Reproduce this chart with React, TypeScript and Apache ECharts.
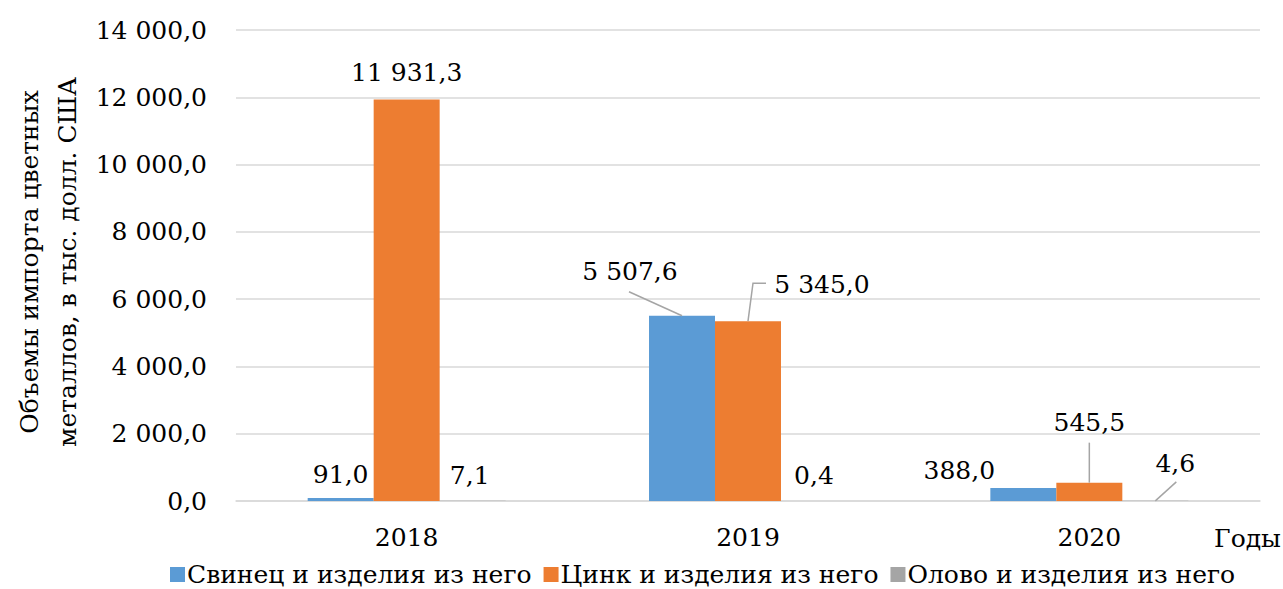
import React, { useEffect, useRef } from "react";
import * as echarts from "echarts";

const categories = ["2018", "2019", "2020"];
const seriesNames = [
  "Свинец и изделия из него",
  "Цинк и изделия из него",
  "Олово и изделия из него",
];
const leadValues = [91.0, 5507.6, 388.0];
const zincValues = [11931.3, 5345.0, 545.5];
const tinValues = [7.1, 0.4, 4.6];
const colors = ["#5B9BD5", "#ED7D31", "#A5A5A5"];
const yAxisTitle = "Объемы импорта цветных\nметаллов, в тыс. долл. США";
const xAxisTitle = "Годы";

const labelNudges: number[][][] = [
  [[0, -6], [-52, -27], [-64, 0]],
  [[0, -10], [74, -19], [0, -43]],
  [[-3, -8], [0, -8], [20, -20]],
];
const leaderItems = [
  [1, 0],
  [1, 1],
  [2, 1],
  [2, 2],
];
const leaderBends: number[][][] = [
  [[-53, -24]],
  [[5, -38], [18, -38]],
  [[0, -40]],
  [[21, -19]],
];

const FONT = "DejaVu Serif";
const FS = 25;
const fmt = (v: number) => {
  const [i, d] = v.toFixed(1).split(".");
  return i.replace(/\B(?=(\d{3})+(?!\d))/g, " ") + "," + d;
};
const BAR_GAP_RATIO = 0.42;

export default function App() {
  const ref = useRef<HTMLDivElement>(null);
  useEffect(() => {
    const chart = echarts.init(ref.current!, null, { renderer: "svg" });
    const all = [leadValues, zincValues, tinValues];
    const barSeries = all.map((vals, si) => ({
      name: seriesNames[si],
      type: "bar",
      barGap: "0%",
      barCategoryGap: `${BAR_GAP_RATIO * 100}%`,
      itemStyle: { color: colors[si] },
      label: {
        show: true,
        position: "top",
        distance: 5,
        color: "#000",
        fontFamily: FONT,
        fontSize: FS,
        formatter: (p: any) => fmt(p.value),
      },
      labelLayout: (p: any) => {
        const n = labelNudges[si][p.dataIndex];
        return { dx: n[0], dy: n[1] };
      },
      data: vals,
    }));
    const leaderSeries = {
      type: "custom",
      silent: true,
      z: 5,
      data: leaderItems.map(([ci, si], k) => [ci, all[si][ci], si, k]),
      encode: { x: 0, y: 1 },
      renderItem: (params: any, api: any) => {
        const ci = api.value(0);
        const v = api.value(1);
        const si = api.value(2);
        const k = api.value(3);
        const c = api.coord([ci, v]);
        const band = api.size([1, 0])[0];
        const bw = (band * (1 - BAR_GAP_RATIO)) / 3;
        const bx = c[0] + (si - 1) * bw;
        const by = c[1];
        const pts = [[bx, by], ...leaderBends[k].map((b) => [bx + b[0], by + b[1]])];
        return {
          type: "polyline",
          shape: { points: pts },
          style: { stroke: "#A5A5A5", lineWidth: 1.5, fill: "none" },
        };
      },
    };
    chart.setOption({
      animation: false,
      grid: { left: 236, right: 23, top: 30, bottom: 88 },
      xAxis: {
        type: "category",
        data: categories,
        axisLine: { lineStyle: { color: "#D9D9D9", width: 1.5 } },
        axisTick: { show: false },
        axisLabel: { color: "#000", fontFamily: FONT, fontSize: FS, margin: 24 },
      },
      yAxis: {
        type: "value",
        min: 0,
        max: 14000,
        interval: 2000,
        axisLine: { show: false },
        axisTick: { show: false },
        splitLine: { lineStyle: { color: "#D9D9D9", width: 1.5 } },
        axisLabel: {
          color: "#000",
          fontFamily: FONT,
          fontSize: FS,
          margin: 29,
          formatter: (v: number) => fmt(v),
        },
      },
      legend: {
        bottom: -3,
        left: 165,
        itemWidth: 15,
        itemHeight: 15,
        itemGap: 12,
        icon: "rect",
        textStyle: { color: "#000", fontFamily: FONT, fontSize: FS, padding: [0, 0, 0, -3] },
        data: seriesNames,
      },
      graphic: [
        {
          type: "text",
          x: 48,
          y: 262,
          rotation: Math.PI / 2,
          style: {
            text: yAxisTitle,
            fontFamily: FONT,
            fontSize: FS,
            fill: "#000",
            align: "center",
            verticalAlign: "middle",
            lineHeight: 38,
          },
        },
        {
          type: "text",
          right: 2,
          top: 526,
          style: { text: xAxisTitle, fontFamily: FONT, fontSize: FS, fill: "#000" },
        },
      ],
      series: [...barSeries, leaderSeries],
    });
    return () => chart.dispose();
  }, []);
  return (
    <div
      ref={ref}
      style={{ position: "fixed", left: 0, top: 0, width: 1283, height: 589, background: "#fff" }}
    />
  );
}
